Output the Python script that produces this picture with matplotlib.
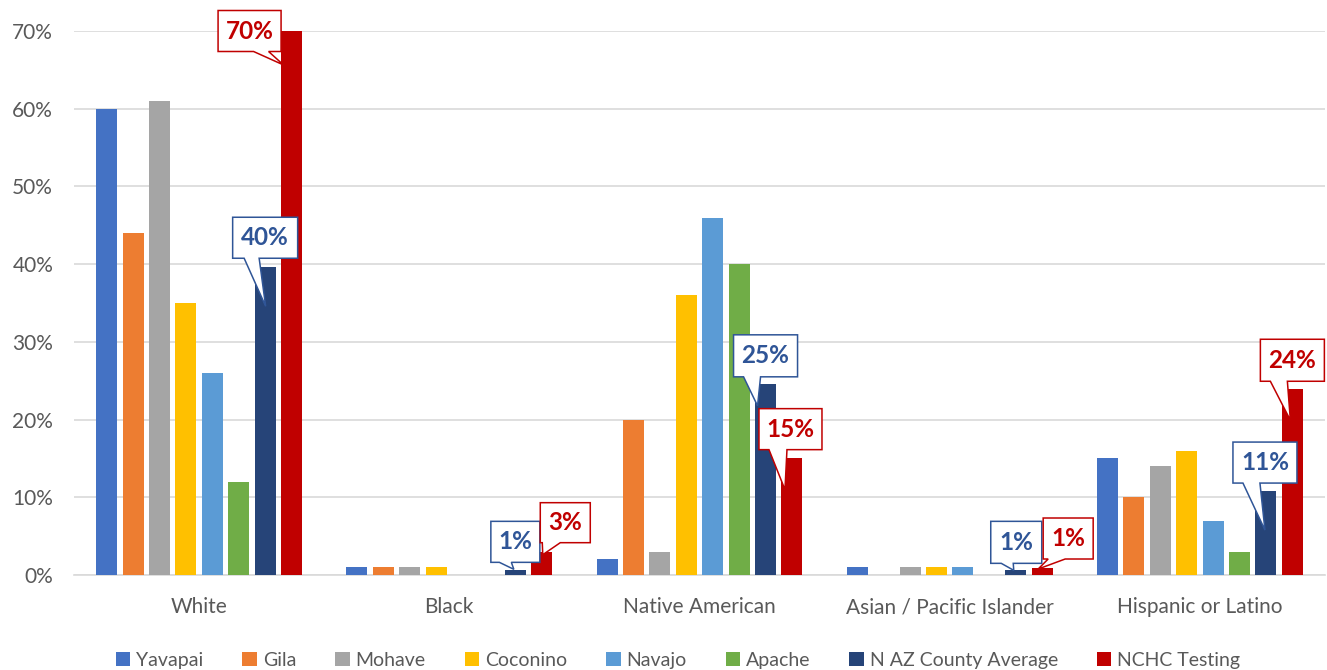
import matplotlib
matplotlib.use("Agg")
import matplotlib.pyplot as plt
import matplotlib.transforms as mtransforms
from matplotlib.patches import Polygon, Patch
import numpy as np

# ---- data (percent) ----
categories = ["White", "Black", "Native American", "Asian / Pacific Islander", "Hispanic or Latino"]
series_names = ["Yavapai", "Gila", "Mohave", "Coconino", "Navajo", "Apache",
                "N AZ County Average", "NCHC Testing"]

yavapai = [60, 1, 2, 1, 15]
gila = [44, 1, 20, 0, 10]
mohave = [61, 1, 3, 1, 14]
coconino = [35, 1, 36, 1, 16]
navajo = [26, 0, 46, 1, 7]
apache = [12, 0, 40, 0, 3]
naz_avg = [39.6, 0.6, 24.6, 0.6, 10.8]
nchc = [70, 3.0, 15.1, 0.9, 23.9]

yticks = [0, 10, 20, 30, 40, 50, 60, 70]

values = [yavapai, gila, mohave, coconino, navajo, apache, naz_avg, nchc]
colors = ["#4472C4", "#ED7D31", "#A5A5A5", "#FFC000", "#5B9BD5", "#70AD47",
          "#264478", "#C00000"]

plt.rcParams['font.family'] = ['Lato', 'DejaVu Sans']
text_gray = "#595959"

fig = plt.figure(figsize=(13.27, 6.70), dpi=100)
ax = fig.add_axes([74 / 1327, 95 / 670, 1251 / 1327, 544 / 670])

x = np.arange(len(categories))
pitch = 0.1056
bw = 0.084
for j, (vals, col) in enumerate(zip(values, colors)):
    ax.bar(x + (j - 3.5) * pitch, vals, width=bw, color=col, zorder=3, label=series_names[j])

ax.set_xlim(-0.5, len(categories) - 0.5)
ax.set_ylim(0, 70)
ax.set_yticks(yticks)
ax.set_yticklabels([f"{t}%" for t in yticks])
ax.set_xticks(x)
ax.set_xticklabels(categories)
ax.tick_params(axis='both', length=0, labelsize=15, labelcolor=text_gray)
ax.tick_params(axis='y', pad=15)
ax.tick_params(axis='x', pad=16)
ax.grid(axis='y', color="#D9D9D9", linewidth=1.2, zorder=0)
for s in ["top", "right", "left"]:
    ax.spines[s].set_visible(False)
ax.spines["bottom"].set_color("#D9D9D9")
ax.spines["bottom"].set_linewidth(1.2)

# ---- callouts (pixel geometry relative to bar top) ----
blue = "#2F5597"
red = "#C00000"


def callout(xv, yv, color, box, size, base, tip):
    cx, cy = box
    w, h = size
    l, r = cx - w / 2, cx + w / 2
    bot, top = cy - h / 2, cy + h / 2
    verts = [(l, bot), (cx + base[0], bot), tip, (cx + base[1], bot),
             (r, bot), (r, top), (l, top)]
    trans = (mtransforms.Affine2D().scale(1 / fig.dpi) + fig.dpi_scale_trans +
             mtransforms.ScaledTranslation(xv, yv, ax.transData))
    ax.add_patch(Polygon(verts, closed=True, transform=trans, facecolor="white",
                         edgecolor=color, linewidth=1.1, zorder=6, clip_on=False))
    ax.annotate(f"{yv:.0f}%", xy=(xv, yv), xytext=(cx, cy), textcoords='offset pixels',
                ha='center', va='center', fontsize=17.5, fontweight='bold',
                color=color, zorder=7, annotation_clip=False)


# style per category: (box center, box size, tail base, tip)
naz_style = [
    ((0, 29.5), (65, 41), (-21, -6), (0.5, -39)),
    ((0, 28.5), (49, 41), (-16, -4), (-1.5, 1)),
    ((0, 28), (64, 42), (-22, -5), (-8, -22)),
    ((0.5, 28), (51, 42), (-15, -3), (-2, 0)),
    ((-1, 28.5), (64, 41), (-22, -5), (-1, -39)),
]
nchc_style = [
    ((-42, 0), (63, 41), (4, 19), (-8, -34)),
    ((23.5, 29), (50, 40), (-23, -5), (1, -3)),
    ((-1.5, 28.5), (63, 41), (-21.5, -3.5), (-7, -32)),
    ((26, 29.5), (50, 41), (-20, -3), (-4, -1)),
    ((0, 29), (64, 42), (-22, -5), (-2, -31)),
]

for i in range(len(categories)):
    callout(x[i] + 2.5 * pitch, naz_avg[i], blue, *naz_style[i])
for i in range(len(categories)):
    callout(x[i] + 3.5 * pitch, nchc[i], red, *nchc_style[i])

# ---- legend ----
handles = [Patch(facecolor=c, edgecolor='none') for c in colors]
leg = fig.legend(handles, series_names, loc='lower center', ncol=8,
                 bbox_to_anchor=(0.511, -0.024), frameon=False, fontsize=14,
                 handlelength=0.75, handleheight=0.75, handletextpad=0.3,
                 columnspacing=2.0)
for t in leg.get_texts():
    t.set_color(text_gray)

fig.savefig("out.png", dpi=100)
